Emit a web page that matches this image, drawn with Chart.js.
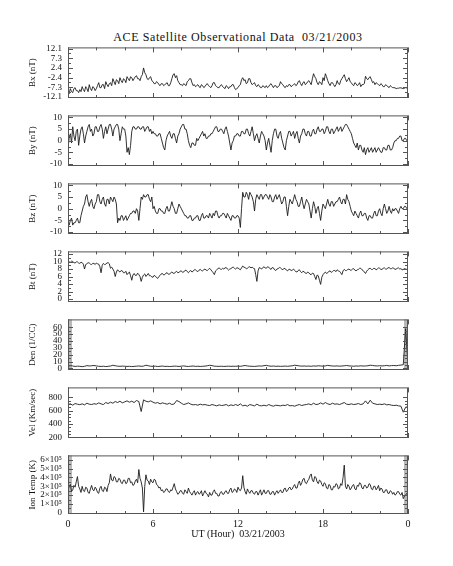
<!DOCTYPE html>
<html>
<head>
<meta charset="utf-8">
<script src="https://cdn.jsdelivr.net/npm/chart.js@4.4.0/dist/chart.umd.min.js"></script>
<style>
  body { margin: 0; background: #fff; }
  #wrap { position: relative; width: 453px; height: 566px; overflow: hidden; }
  #wrap canvas { position: absolute; left: 0; }
  #title { position: absolute; left: 0; width: 476px; top: 30px; line-height: 14px;
           text-align: center; font: 12px 'Liberation Serif'; letter-spacing: 0.6px;
           color: #111; white-space: pre; }
</style>
</head>
<body>
<div id="wrap">
  <div id="title">ACE Satellite Observational Data  03/21/2003</div>
</div>
<script>
// magnetic field (nT), one value every 5 minutes, 00:00 to 24:00 UT (12 per hour)
const bx = [
  -9, -10.5, -8, -9.5, -10, -8, -7.5, -9, -9, -10, -8.5, -9.5,
  -7, -8.5, -9.5, -7, -8, -9.5, -6, -8, -9, -7, -7.5, -9,
  -8, -6.5, -5, -7.5, -7.5, -6, -6, -8, -4.5, -6, -7, -5.5,
  -5, -6.5, -3, -4.5, -6, -3.5, -4, -5.5, -2.5, -4, -5, -3,
  -3.5, -5, -2, -3, -4, -2, -2.5, -4, -3, -2, -1.5, -3,
  -3, -4, -2, -1, 2.4, 0, -1, -3, -3.5, -2.5, -2, -4,
  -4.5, -5.5, -5.5, -4.5, -5, -6, -6.5, -5.5, -5.5, -6.5, -6, -5.5,
  -5, -6.5, -6.5, -5, -3, -1, -0.5, -2.5, -1.5, -4, -5, -6,
  -6, -6.5, -5.5, -6, -6.5, -4.5, -4, -3, -3, -5, -6.5, -6,
  -7, -6.5, -6, -7, -7.5, -6, -6.5, -7.5, -7, -6, -5.5, -6.5,
  -7, -7.5, -6.5, -5, -5, -6.5, -7, -7.5, -7.5, -6.5, -6, -7,
  -7.5, -8, -6.5, -7, -8, -7, -7, -6, -6, -7.5, -8.5, -8,
  -7.5, -6.5, -6, -3.5, -2.5, -4, -3.5, -5.5, -5, -3, -3, -5,
  -6, -5.5, -5, -6.5, -7, -6, -6.5, -7.5, -7.5, -6.5, -7, -7.5,
  -6.5, -7.5, -7, -6, -5.5, -6.5, -7.5, -6.5, -6.5, -7.5, -7, -6.5,
  -4.5, -5.5, -6, -7, -7.5, -6.5, -7, -6, -6, -7, -6.5, -6,
  -5.5, -6.5, -6, -4.5, -4, -5.5, -6.5, -5, -4.5, -6, -5.5, -4.5,
  -4, -5, -6, -3, -0.5, -2, -3, -5, -6, -4.5, -5, -6,
  -2.5, -4, -0.5, -2, -4, -5.5, -6.5, -5, -5, -6, -7, -6,
  -4, -5.5, -6, -4, -3, -2, -1, -3, -4.5, -3.5, -2.5, -4.5,
  -5, -6, -6.5, -5, -5.5, -6.5, -6, -5, -7, -6, -6, -5.5,
  -1.8, -3, -3.5, -2.5, -2, -3.5, -5, -4.5, -6, -5, -5.5, -6,
  -6.5, -5.5, -6, -7, -7, -6, -6.5, -7, -7.5, -6.5, -7, -7.5,
  -7.5, -7.6, -8, -7.8, -7.8, -7.6, -7.6, -7.8, -8, -7.8, -7.5, -7.7,
  -7.8
];
const by = [
  -3, 1, 3, -1, 6, 2, 0, 4, 5, -2, 2, 5,
  6, 3, -1, 2, 4, 6, 7, 4, 5, 2, 3, 6,
  6, 4, 4, 6, 7, 5, 1, 4, 6, 3, 5, 7,
  7, 5, 2, 5, 6, 7, 7, 5, 0, 3, 6, 5,
  5, 2, -5, -3, -6, -2, 4, 6, 6, 5, 5, 6,
  6, 5, 5, 6, 6, 4, 5, 6, 6, 4, 5, 3,
  4, 3, 3, 2, 2, 3, 3, 1, -1, -3, -4, 0,
  2, 3, 4, 2, 1, 3, 3, 1, -1, 2, 3, 5,
  6, 7, 7, 5, 5, 3, 0, -2, -3, -1, -1, -2,
  -2, 1, 0, 1, 2, 3, 4, 2, 3, 1, 1, 2,
  2, 3, 3, 4, 5, 6, 6, 4, 4, 5, 5, 4,
  3, 5, 6, 4, 2, -1, -4, -1, 0, 2, 2, 3,
  3, 2, 2, 4, 4, 3, 3, 5, 5, 3, 2, 4,
  6, 3, 0, 2, 3, 1, -1, 2, 4, 3, 2, 0,
  -4, -1, 1, -2, -5, 0, 3, 5, 5, 2, 1, 3,
  4, 1, -1, -3, -4, 0, 2, 4, 4, 2, 3, 4,
  1, 3, 4, 1, -1, 2, 3, 5, 5, 3, 2, 4,
  4, 2, 2, 4, 5, 3, 3, 5, 6, 4, 4, 5,
  5, 3, 4, 6, 6, 4, 3, 5, 5, 3, 4, 5,
  6, 4, 5, 6, 4, 5, 6, 7, 7, 6, 5, 4,
  3, 1, -1, -2, -3, -1, -4, -2, -2, -4, -5, -3,
  -6, -4, -3, -5, -4, -3, -5, -4, -3, -5, -4, -3,
  -4, -5, -5, -3, -3, -4, -4, -2, -2, -4, -4, -3,
  -1, 0, 0, 1, 1, 2, 2, 0, 0, 1, 1, 0,
  0
];
const bz = [
  -6, -7, -5, -4, -7, -6, -6, -5, -4, -6, -6, -3,
  -1, 1, 2, 5, 6, 3, 1, 3, 4, 1, 0, 2,
  3, 6, 6, 3, 2, 4, 5, 2, 1, 4, 4, 2,
  5, 4, 3, 5, 4, 2, -6, -4, -5, -3, -3, -5,
  -4, -3, -5, -4, -3, -2, -2, -1, -1, -2, 0, -1,
  -5, 0, 5, 4, 6, 5, 5, 6, 6, 4, 3, 5,
  0, 1, -1, -2, -2, 0, 0, -1, -1, -2, -2, 0,
  1, -1, -1, 1, 3, 1, 0, -2, -2, 0, 2, 1,
  0, -1, -2, -3, -3, -4, -4, -3, -3, -5, -5, -4,
  -4, -3, -3, -5, -5, -3, -2, -4, -4, -3, -3, -4,
  -2, -3, -4, -2, -3, -1, -1, -3, -4, -3, -3, -2,
  -2, -3, -4, -2, -3, -4, -5, -3, -3, -4, -4, -3,
  -3, -4, -8, 0, 7, 5, 5, 7, 6, 4, 7, 6,
  5, 3, -1, 4, 6, 5, 4, 6, 6, 4, 5, 6,
  6, 5, 4, 6, 5, 3, 3, 5, 6, 4, 5, 6,
  4, 2, 3, 5, 5, 1, -3, 1, 4, 3, 2, 4,
  6, 4, 3, 1, 1, 3, 5, 2, 0, 2, 4, 3,
  2, -1, -4, 0, 3, 1, -2, 0, 1, -2, -5, -1,
  2, 1, 0, 2, 4, 2, 1, 3, 3, 1, 2, 3,
  3, 4, 5, 3, 2, 4, 4, 2, 6, 4, 3, 1,
  -1, -2, -3, -1, -2, -3, -4, -2, -1, -3, -3, -2,
  -2, -4, -5, -3, -3, -4, -4, -2, -1, -3, -3, -1,
  0, -2, -3, 0, 2, 0, -2, -1, 1, -1, -2, 0,
  -1, 0, 0, -1, -2, 0, 1, 0, 0, 1, 1, 0,
  0
];
const bt = [
  10.2, 9.9, 9.8, 10.1, 10, 9.7, 9.6, 9.9, 9.9, 9.6, 9.5, 9.8,
  9.7, 9.3, 8, 9.2, 9.4, 9.7, 9.6, 9.3, 9.2, 9.5, 9.5, 9.2,
  9.6, 9.4, 9.3, 8.6, 7, 9, 9.5, 9.2, 9.3, 9.6, 9.7, 9.4,
  8.2, 8.5, 8, 7.4, 6, 7.2, 7.8, 7.4, 7.2, 7.6, 7.5, 7,
  7, 7.4, 6.5, 6.9, 7.2, 6.2, 5, 6.4, 6.8, 6.3, 6.3, 6.9,
  6.5, 6, 4.7, 5.8, 6.4, 6.7, 6, 6.4, 6.8, 6.2, 6.2, 5.9,
  5.8, 6.3, 6.1, 5.7, 5.5, 6, 6.3, 6.7, 6.8, 6.4, 6.5, 6.9,
  7, 6.6, 6.6, 7, 7.2, 6.9, 6.8, 7.2, 7.4, 7, 7.1, 7.4,
  7.5, 7.1, 7.2, 7.6, 7.7, 7.3, 7, 7.4, 7.6, 7.2, 7.4, 7.8,
  7.8, 7.5, 7.3, 7.7, 7.9, 7.6, 7.5, 7.8, 8, 7.7, 7.6, 7.9,
  8.2, 7.8, 7.4, 7, 6.5, 7.5, 7.8, 8.1, 8.3, 8, 7.9, 8.2,
  8, 8.3, 8.4, 8, 7.7, 8, 8.1, 8.4, 8.5, 8.2, 8, 8.3,
  8.3, 8, 7.8, 8.3, 8.8, 8.5, 8.4, 8.1, 8.2, 8.5, 8.6, 8.3,
  8.5, 8.2, 8.1, 6.5, 4.7, 7.5, 8.4, 8.2, 8, 8.4, 8.6, 8.3,
  8.2, 8.6, 8.5, 8.1, 7.9, 8.4, 8.3, 7.8, 7.6, 8, 8.1, 8.4,
  8.3, 8, 7.8, 8.2, 8.1, 7.7, 7.5, 7.9, 7.9, 7.6, 7.7, 8,
  7.6, 7.3, 7.2, 7.6, 7.8, 7.3, 7, 7.4, 7.3, 6.9, 6.8, 7.2,
  7, 6.6, 6.5, 6.9, 6.8, 6, 5.2, 6.4, 6.2, 5, 3.9, 5.8,
  6.5, 6.9, 7.2, 6.8, 7, 7.4, 7.5, 7.1, 7.3, 7.6, 7.6, 7.3,
  7.8, 7.5, 7.4, 7, 6.5, 7.5, 7.9, 7.6, 7.6, 7.9, 8, 7.7,
  7.7, 8, 8.1, 7.7, 7.5, 7.8, 7.9, 8.2, 8.2, 7.8, 7.6, 7.2,
  6.8, 7.4, 7.8, 8.1, 8.2, 7.9, 7.9, 8.2, 8.1, 7.8, 8, 8.3,
  8.2, 7.9, 7.9, 8.2, 8.3, 8, 8, 8.3, 8.4, 8.1, 8.1, 8.3,
  8.2, 7.9, 8, 8.2, 8.3, 8, 8.1, 7.8, 7.9, 8.1, 8, 7.9,
  8
];
// ion temperature in units of 1e5 K, 12 per hour
const ionTemp = [
  2.5, 3.0, 3.2, 2.4, 2.6, 3.1, 2.9, 3.5, 4.1, 3.0, 2.7, 2.3,
  3.0, 2.5, 2.4, 2.9, 2.8, 2.3, 2.2, 2.7, 3.1, 2.6, 2.5, 2.9,
  2.7, 2.3, 2.2, 2.8, 3.0, 2.5, 2.4, 2.9, 2.8, 2.4, 3.1, 3.4,
  4.4, 3.7, 3.6, 4.1, 4.0, 3.5, 3.5, 3.9, 3.8, 3.4, 3.3, 3.7,
  3.7, 3.3, 3.4, 3.9, 3.9, 3.4, 3.5, 3.1, 3.2, 3.6, 3.8, 3.4,
  4.9, 3.9, 3.5, 2.8, 0.1, 3.0, 4.3, 3.7, 3.6, 3.2, 3.8, 3.5,
  3.4, 3.8, 3.7, 3.2, 3.1, 2.8, 2.9, 2.5, 2.6, 2.3, 2.4, 2.7,
  2.7, 2.4, 2.3, 2.6, 2.5, 2.9, 3.3, 2.7, 2.4, 2.1, 2.2, 2.5,
  2.5, 2.2, 2.1, 2.6, 2.4, 2.2, 2.8, 2.4, 2.2, 2.0, 2.3, 2.5,
  2.0, 2.3, 2.4, 2.1, 2.2, 2.5, 1.9, 2.2, 2.5, 2.2, 2.1, 1.8,
  2.3, 2.0, 2.0, 2.4, 2.6, 2.2, 2.2, 1.9, 1.9, 2.3, 2.4, 2.1,
  2.1, 2.4, 2.5, 2.2, 2.2, 2.6, 2.8, 2.3, 2.4, 2.7, 2.6, 2.3,
  2.9, 2.6, 2.5, 2.8, 4.2, 2.9, 2.4, 2.1, 2.7, 2.4, 2.2, 2.5,
  2.5, 2.2, 2.1, 2.4, 2.4, 2.0, 2.3, 2.6, 2.0, 2.3, 2.6, 2.2,
  2.2, 2.5, 2.5, 2.1, 2.1, 2.4, 2.4, 2.0, 2.3, 2.5, 2.2, 2.4,
  2.6, 2.3, 2.3, 2.7, 2.8, 2.4, 2.5, 2.8, 2.9, 2.6, 2.7, 3.0,
  3.2, 2.8, 2.8, 3.3, 3.6, 3.1, 3.4, 3.8, 3.9, 3.4, 3.3, 3.6,
  3.8, 4.2, 4.4, 3.7, 3.5, 4.1, 4.0, 3.5, 3.3, 3.7, 3.6, 3.2,
  3.0, 3.4, 3.3, 2.8, 2.7, 3.2, 3.1, 2.6, 2.6, 3.0, 2.9, 3.3,
  3.2, 2.7, 2.8, 3.3, 3.1, 4.0, 5.4, 3.0, 2.7, 3.2, 3.0, 2.6,
  2.8, 3.1, 3.2, 2.7, 2.6, 3.1, 3.0, 3.4, 3.3, 2.8, 2.7, 3.1,
  3.1, 2.8, 2.9, 3.3, 3.2, 2.7, 2.6, 3.0, 3.0, 2.6, 2.8, 3.1,
  2.5, 2.8, 2.7, 2.3, 2.3, 2.6, 2.6, 2.2, 2.2, 2.5, 2.4, 2.1,
  2.3, 2.0, 2.1, 2.4, 2.4, 2.1, 2.0, 2.3, 1.6, 1.9, 2.0, 2.2,
  2.0
];
// proton density (1/cc) and bulk speed (km/s), one value every 10 minutes (6 per hour)
const den = [
  3, 4, 3.5, 2.8, 3.2, 3,
  2.5, 3, 4, 3.5, 3.8, 4.2,
  3.6, 3, 2.8, 3.1, 2.6, 3,
  3.4, 4.5, 3.8, 3.2, 3, 3.3,
  3.1, 2.8, 3, 2.6, 2.9, 3.2,
  3.5, 3, 3.3, 4.6, 3.8, 3.1,
  2.9, 3.2, 2.7, 3, 3.4, 2.8,
  3, 2.7, 2.9, 3.3, 3.1, 2.8,
  3.2, 3.6, 3, 2.8, 3.1, 3.4,
  2.9, 3.1, 2.8, 3, 3.3, 3.8,
  4.5, 4, 3.2, 3, 2.9, 3.1,
  2.8, 3, 3.2, 2.9, 3.1, 3,
  3.3, 3, 3.6, 4.2, 3.5, 3.1,
  3, 2.8, 3.2, 3.5, 3.3, 3.9,
  4.4, 3.6, 3.1, 3.4, 3, 3.2,
  2.9, 3.1, 3.3, 3, 3.4, 3.8,
  4.6, 4.1, 3.6, 3.2, 3.5, 3.1,
  3.4, 3, 3.6, 3.2, 3.8, 3.5,
  3.2, 3.6, 4.4, 3.8, 3.5, 3.3,
  3.6, 3.2, 3.4, 3.8, 4.2, 3.6,
  3.4, 3.1, 3.5, 3.3, 3.7, 3.4,
  3.5, 3.8, 4.6, 4.2, 3.7, 3.5,
  3.9, 3.5, 3.8, 4.3, 3.6, 4,
  4.2, 3.8, 4.4, 4.8, 5.2, 58,
  4
];
const vel = [
  690, 700, 680, 705, 695, 688,
  700, 685, 710, 695, 690, 702,
  695, 715, 700, 690, 720, 705,
  725, 710, 735, 720, 740, 715,
  730, 745, 725, 740, 720, 750,
  735, 585, 760, 740, 730, 745,
  725, 710, 720, 700, 715, 705,
  695, 710, 690, 700, 750, 735,
  710, 690, 700, 715, 695, 685,
  690, 680, 695, 685, 690, 680,
  675, 690, 680, 670, 685, 675,
  680, 690, 670, 685, 675, 690,
  675, 700, 670, 680, 665, 690,
  680, 670, 695, 675, 670, 680,
  670, 690, 675, 665, 680, 675,
  670, 680, 675, 690, 670, 675,
  665, 680, 690, 675, 685, 690,
  700, 685, 710, 690, 695, 715,
  695, 720, 700, 690, 710, 695,
  700, 690, 705, 720, 695, 690,
  700, 690, 695, 705, 690, 700,
  745, 700, 755, 710, 700, 690,
  695, 690, 700, 685, 690, 680,
  675, 680, 670, 665, 575, 650,
  655
];

// tick labels
const hourTicks = [0, 6, 12, 18, 24];
const bxTicks = [-12.1, -7.26, -2.42, 2.42, 7.26, 12.1];
const byTicks = [-10, -5, 0, 5, 10];
const bzTicks = [-10, -5, 0, 5, 10];
const btTicks = [0, 2, 4, 6, 8, 10, 12];
const denTicks = [0, 10, 20, 30, 40, 50, 60];
const velTicks = [200, 400, 600, 800];
const ionTicks = [0, 1e5, 2e5, 3e5, 4e5, 5e5, 6e5];

// shaded (fill) intervals, hours
const denGaps = [[0, 0.28], [23.72, 24]];
const ionGaps = [[0, 0.28], [23.72, 24]];

const FONT = 'Liberation Serif';

// box, inward tick marks and grey shading drawn off the chart's scales
const framePlugin = {
  id: 'frame',
  beforeDatasetsDraw(chart, args, opts) {
    const { ctx, chartArea: a, scales: { x } } = chart;
    ctx.save();
    ctx.fillStyle = '#b8b8b8';
    (opts.gaps || []).forEach(([g0, g1]) => {
      const p0 = x.getPixelForValue(g0), p1 = x.getPixelForValue(g1);
      ctx.fillRect(p0, a.top, p1 - p0, a.bottom - a.top);
    });
    ctx.restore();
  },
  afterDatasetsDraw(chart, args, opts) {
    const { ctx, chartArea: a, scales: { x, y } } = chart;
    ctx.save();
    ctx.strokeStyle = '#555';
    ctx.lineWidth = 1;
    ctx.strokeRect(a.left + 0.5, a.top + 0.5, a.right - a.left - 1, a.bottom - a.top - 1);
    ctx.beginPath();
    const t = opts.ticks;
    for (let v = t[0]; v <= t[t.length - 1] + opts.minor / 10; v += opts.minor) {
      const major = t.some(m => Math.abs(m - v) < opts.minor / 10);
      const len = major ? 5 : 3;
      const py = Math.round(y.getPixelForValue(v)) + 0.5;
      ctx.moveTo(a.left, py); ctx.lineTo(a.left + len, py);
      ctx.moveTo(a.right, py); ctx.lineTo(a.right - len, py);
    }
    for (let h = 0; h <= 24; h += 2) {
      const len = h % 6 === 0 ? 5 : 3;
      const px = Math.round(x.getPixelForValue(h)) + 0.5;
      ctx.moveTo(px, a.top); ctx.lineTo(px, a.top + len);
      ctx.moveTo(px, a.bottom); ctx.lineTo(px, a.bottom - len);
    }
    ctx.stroke();
    ctx.restore();
  }
};

const fmtIon = v => v === 0 ? '0' : (v / 1e5) + '\u00d710\u2075';

// samples per hour: 12 for field and temperature, 6 for plasma moments
const toPoints = (arr, perHour, scale = 1) => arr.map((v, k) => ({ x: k / perHour, y: v * scale }));

const panels = [
  { points: toPoints(bx, 12),  label: 'Bx (nT)',      ticks: bxTicks,  min: -12.7, max: 12.7, minor: 2.42, fmt: v => v.toFixed(1) },
  { points: toPoints(by, 12),  label: 'By (nT)',      ticks: byTicks,  min: -10.9, max: 10.9, minor: 2.5,  fmt: v => String(v) },
  { points: toPoints(bz, 12),  label: 'Bz (nT)',      ticks: bzTicks,  min: -10.8, max: 10.8, minor: 2.5,  fmt: v => String(v) },
  { points: toPoints(bt, 12),  label: 'Bt (nT)',      ticks: btTicks,  min: -0.8,  max: 12.7, minor: 1,    fmt: v => String(v) },
  { points: toPoints(den, 6),  label: 'Den (1/CC)',   ticks: denTicks, min: -2.4,  max: 71.5, minor: 5,    fmt: v => String(v), gaps: denGaps },
  { points: toPoints(vel, 6),  label: 'Vel (Km/sec)', ticks: velTicks, min: 188,   max: 947,  minor: 50,   fmt: v => String(v) },
  { points: toPoints(ionTemp, 12, 1e5), label: 'Ion Temp (K)', ticks: ionTicks, min: -0.14e5, max: 6.5e5, minor: 0.5e5, fmt: fmtIon, gaps: ionGaps }
];

const wrap = document.getElementById('wrap');
const TOP0 = 44, PITCH = 68, H = 62, PAD = 8;

panels.forEach((p, i) => {
  const last = i === panels.length - 1;
  const canvas = document.createElement('canvas');
  const top = TOP0 + i * PITCH - PAD;
  const height = last ? 566 - top : H + 2 * PAD;
  canvas.width = 453;
  canvas.height = height;
  canvas.style.top = top + 'px';
  wrap.appendChild(canvas);

  new Chart(canvas.getContext('2d'), {
    type: 'line',
    data: {
      datasets: [{
        data: p.points,
        borderColor: '#1c1c1c',
        borderWidth: 0.9,
        pointRadius: 0,
        tension: 0
      }]
    },
    options: {
      responsive: false,
      animation: false,
      events: [],
      layout: { padding: { left: 0, right: 45, top: PAD, bottom: last ? 0 : PAD } },
      plugins: {
        legend: { display: false },
        tooltip: { enabled: false },
        frame: { ticks: p.ticks, minor: p.minor, gaps: p.gaps }
      },
      scales: {
        x: {
          type: 'linear',
          min: 0,
          max: 24,
          display: last,
          grid: { display: false, drawTicks: false },
          border: { display: false },
          afterBuildTicks: s => { s.ticks = hourTicks.map(v => ({ value: v })); },
          afterFit: s => { s.height = height - PAD - H; },
          ticks: {
            autoSkip: false,
            maxRotation: 0,
            padding: 4,
            color: '#111',
            font: { family: FONT, size: 10 },
            callback: v => (v === 24 ? '0' : String(v))
          },
          title: {
            display: true,
            text: 'UT (Hour)  03/21/2003',
            color: '#111',
            font: { family: FONT, size: 10 },
            padding: { top: 0, bottom: 26 }
          }
        },
        y: {
          min: p.min,
          max: p.max,
          grid: { display: false, drawTicks: false },
          border: { display: false },
          afterBuildTicks: s => { s.ticks = p.ticks.map(v => ({ value: v })); },
          afterFit: s => { s.width = 68; },
          ticks: {
            autoSkip: false,
            padding: 6,
            color: '#111',
            font: { family: FONT, size: 9 },
            callback: p.fmt
          },
          title: {
            display: true,
            text: p.label,
            color: '#111',
            font: { family: FONT, size: 9 },
            padding: { top: 27, bottom: 0 }
          }
        }
      }
    },
    plugins: [framePlugin]
  });
});
</script>
</body>
</html>
